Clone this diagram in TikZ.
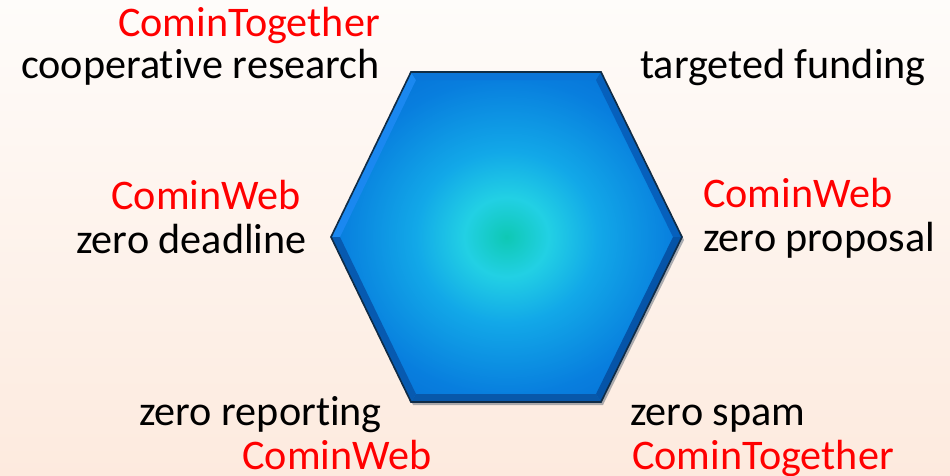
\documentclass[tikz,border=0pt]{standalone}
\usepackage{fontspec}
\setmainfont{Carlito}[RawFeature=-liga]
\usetikzlibrary{positioning}

\definecolor{brandred}{RGB}{255,0,0}
\definecolor{bgtop}{RGB}{254,252,250}
\definecolor{bgbot}{RGB}{253,234,222}
\definecolor{hexteal}{RGB}{14,200,180}
\definecolor{hexcyan}{RGB}{34,208,228}
\definecolor{hexsky}{RGB}{18,168,232}
\definecolor{hexblue}{RGB}{8,126,222}
\definecolor{hexdeep}{RGB}{4,104,208}
\definecolor{hexedge}{RGB}{16,44,70}

\pgfdeclareradialshading{hexglow}{\pgfpoint{0bp}{0bp}}{%
  color(0bp)=(hexteal); color(6bp)=(hexcyan); color(13bp)=(hexsky);
  color(24bp)=(hexblue); color(36bp)=(hexdeep); color(50bp)=(hexdeep)}

\begin{document}
\begin{tikzpicture}[
	x=0.03cm, y=-0.03cm,
	txt/.style={font=\fontsize{36}{40}\selectfont, inner sep=0pt, text=black},
	brand/.style={txt, text=brandred},
	bevel/.style={draw=none}
]
	% background
	\shade[top color=bgtop, bottom color=bgbot] (0,0) rectangle (950,476);
	\useasboundingbox (0,0) rectangle (950,476);

	% hexagon corners
	\coordinate (L)  at (331,237);
	\coordinate (TL) at (411,72);
	\coordinate (TR) at (601,72);
	\coordinate (R)  at (682,237);
	\coordinate (BR) at (601,402);
	\coordinate (BL) at (411,402);
	\coordinate (iL)  at (340,237);
	\coordinate (iTL) at (416,80);
	\coordinate (iTR) at (596,80);
	\coordinate (iR)  at (673,237);
	\coordinate (iBR) at (596,394);
	\coordinate (iBL) at (416,394);

	% shadow
	\fill[hexedge, opacity=.35] ([shift={(2,3)}]L) -- ([shift={(2,3)}]TL) -- ([shift={(2,3)}]TR)
		-- ([shift={(2,3)}]R) -- ([shift={(2,3)}]BR) -- ([shift={(2,3)}]BL) -- cycle;

	% body
	\shade[shading=hexglow] (L) -- (TL) -- (TR) -- (R) -- (BR) -- (BL) -- cycle;

	% bevel faces
	\fill[bevel, fill={rgb,255:red,26;green,136;blue,240}] (L) -- (TL) -- (iTL) -- (iL) -- cycle;
	\fill[bevel, fill={rgb,255:red,10;green,116;blue,216}] (TL) -- (TR) -- (iTR) -- (iTL) -- cycle;
	\fill[bevel, fill={rgb,255:red,6;green,96;blue,188}] (TR) -- (R) -- (iR) -- (iTR) -- cycle;
	\fill[bevel, fill={rgb,255:red,5;green,84;blue,168}] (R) -- (BR) -- (iBR) -- (iR) -- cycle;
	\fill[bevel, fill={rgb,255:red,8;green,88;blue,170}] (BR) -- (BL) -- (iBL) -- (iBR) -- cycle;
	\fill[bevel, fill={rgb,255:red,7;green,90;blue,176}] (BL) -- (L) -- (iL) -- (iBL) -- cycle;
	\draw[hexedge, line width=1.4pt, line join=miter] (L) -- (TL) -- (TR) -- (R) -- (BR) -- (BL) -- cycle;

	% labels
	\node[brand, anchor=base east] (togetherTop) at (380,36) {CominTogether};
	\node[txt, anchor=base east] (research) at (380,78) {cooperative research};
	\node[txt, anchor=base west] (funding) at (640,78) {targeted funding};

	\node[brand, anchor=base east] (webLeft) at (301,209) {CominWeb};
	\node[txt, anchor=base east] (deadline) at (307,253) {zero deadline};
	\node[brand, anchor=base west] (webRight) at (703,207) {CominWeb};
	\node[txt, anchor=base west] (proposal) at (703,251) {zero proposal};

	\node[txt, anchor=base east] (reporting) at (382,425) {zero reporting};
	\node[brand, anchor=base east] (webBottom) at (432,469) {CominWeb};
	\node[txt, anchor=base west] (spam) at (630,425) {zero spam};
	\node[brand, anchor=base west] (togetherBottom) at (632,469) {CominTogether};
\end{tikzpicture}
\end{document}
